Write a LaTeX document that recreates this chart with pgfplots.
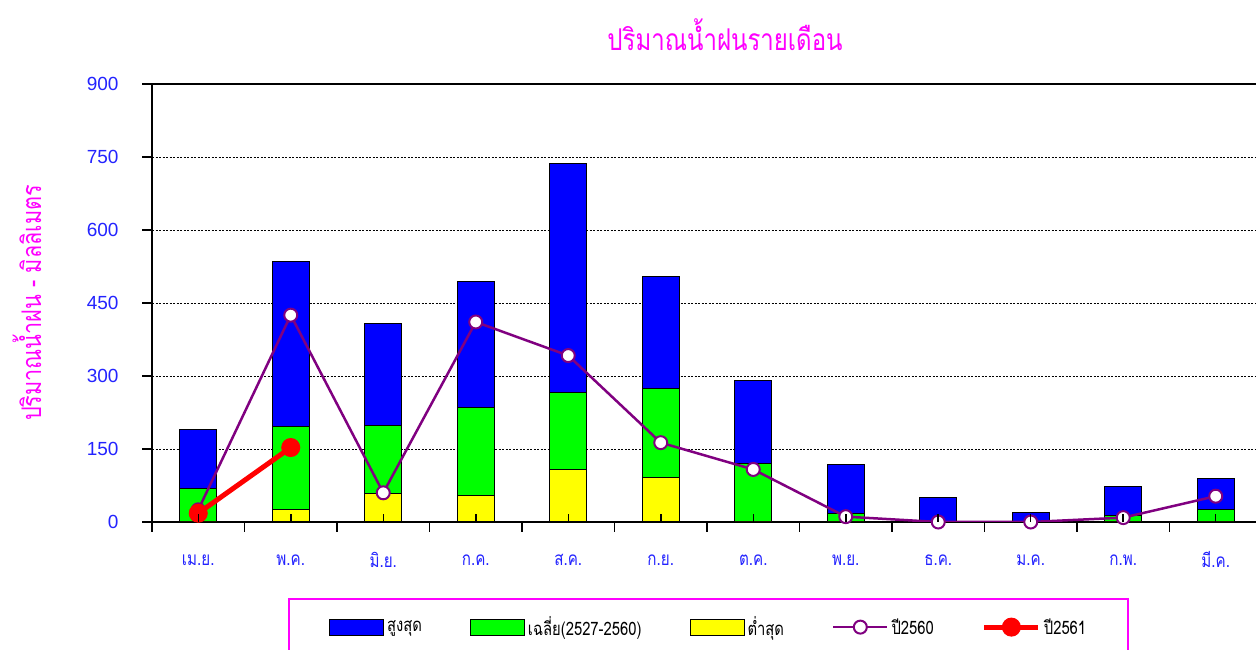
\documentclass[border=0pt]{standalone}
\usepackage{pgfplots}
\usepackage{pgfplotstable}
\pgfplotsset{compat=1.18}
\usepackage{fontspec}
\setmainfont{Liberation Sans}
\newfontfamily\thai[Script=Thai,FakeStretch=0.8]{Loma}
\definecolor{tblue}{RGB}{0,0,255}
\definecolor{tgreen}{RGB}{0,255,0}
\definecolor{tyellow}{RGB}{255,255,0}
\definecolor{tpurple}{RGB}{128,0,128}
\definecolor{tred}{RGB}{255,0,0}
\definecolor{tmag}{RGB}{255,0,255}
\definecolor{tlbl}{RGB}{35,35,255}

\pgfplotstableread{
x   max avg min y60
0   190 69  0   25
1   535 196 25  425
2   407 198 59  60
3   495 235 55  411
4   736 266 107 342
5   504 275 92  163
6   290 120 0   108
7   119 18  0   11
8   50  0   0   0
9   19  0   0   0
10  72  13  0   9
11  90  25  0   53
}\datatab

\pgfplotsset{
  barlegend/.style={legend image code/.code={\draw[##1] (0pt,-8pt) rectangle (54pt,8pt);}},
  linelegend/.style={legend image code/.code={\draw[##1,mark repeat=2,mark phase=2] plot coordinates {(0pt,0pt) (27pt,0pt) (54pt,0pt)};}},
}

\begin{document}
\begin{tikzpicture}
\path[use as bounding box] (0pt,0pt) rectangle (1256pt,650pt);
\begin{axis}[
  at={(152pt,128pt)}, anchor=south west,
  scale only axis, width=1110pt, height=438pt,
  xmin=-0.5, xmax=11.5, ymin=0, ymax=900,
  xtick={-0.5,0.5,...,10.5}, xticklabels={},
  ytick={0,150,...,900},
  xtick pos=bottom, ytick pos=left,
  tick align=outside, major tick length=10pt,
  tick style={black, line width=1.5pt},
  axis line style={black, line width=2.5pt},
  ymajorgrids, grid style={black, line width=0.9pt, dash pattern=on 2pt off 1.5pt},
  yticklabel style={font=\fontsize{19}{19}\selectfont, text=tlbl, xshift=-20pt},
  /pgf/number format/assume math mode=true,
  legend columns=5,
  legend style={at={(0.5015,-0.24)}, anchor=center, draw=tmag, line width=1.5pt,
    inner xsep=40pt, inner ysep=16pt,
    font=\thai\fontsize{18.5}{18.5}\selectfont,
    /tikz/every odd column/.append style={column sep=1pt},
    /tikz/every even column/.append style={column sep=46pt}},
]
\addplot[ybar, bar width=37pt, bar shift=0pt, fill=tblue, draw=black, line width=1pt, barlegend] table[x=x,y=max]{\datatab};
\addlegendentry{สูงสุด}
\addplot[ybar, bar width=37pt, bar shift=0pt, fill=tgreen, draw=black, line width=1pt, barlegend] table[x=x,y=avg]{\datatab};
\addlegendentry{เฉลี่ย(2527-2560)}
\addplot[ybar, bar width=37pt, bar shift=0pt, fill=tyellow, draw=black, line width=1pt, barlegend] table[x=x,y=min]{\datatab};
\addlegendentry{ต่ำสุด}
\addplot[sharp plot, tpurple, line width=2.5pt, mark=*, mark size=6.5pt, mark options={fill=white, draw=tpurple, line width=2pt}, linelegend] table[x=x,y=y60]{\datatab};
\addlegendentry{ปี2560}
\addplot[sharp plot, tred, line width=5pt, mark=*, mark size=9pt, mark options={fill=tred, draw=tred, line width=1pt}, linelegend] coordinates {(0,18) (1,153)};
\addlegendentry{ปี2561}
\end{axis}
\begin{axis}[
  at={(152pt,128pt)}, anchor=south west,
  scale only axis, width=1110pt, height=438pt,
  xmin=-0.5, xmax=11.5, ymin=0, ymax=900,
  axis line style={draw=none},
  xtick={0,...,11},
  xticklabels={เม.ย.,พ.ค.,มิ.ย.,ก.ค.,ส.ค.,ก.ย.,ต.ค.,พ.ย.,ธ.ค.,ม.ค.,ก.พ.,มี.ค.},
  ytick=\empty,
  minor ytick={30,60,90,120,180,210,240,270,330,360,390,420,480,510,540,570,630,660,690,720,780,810,840,870},
  xtick pos=bottom, ytick pos=left,
  tick align=inside, major tick length=8pt, minor tick length=8pt,
  tick style={black, line width=1.5pt},
  xticklabel style={font=\thai\fontsize{19}{19}\selectfont, text=tlbl, anchor=center, yshift=-38pt},
]
\end{axis}
\node[text=tmag, font=\thai\fontsize{30}{30}\selectfont] at (725pt,615pt) {ปริมาณน้ำฝนรายเดือน};
\node[text=tmag, rotate=90, font=\thai\fontsize{27}{27}\selectfont] at (27pt,347pt) {ปริมาณน้ำฝน - มิลลิเมตร};
\end{tikzpicture}
\end{document}
